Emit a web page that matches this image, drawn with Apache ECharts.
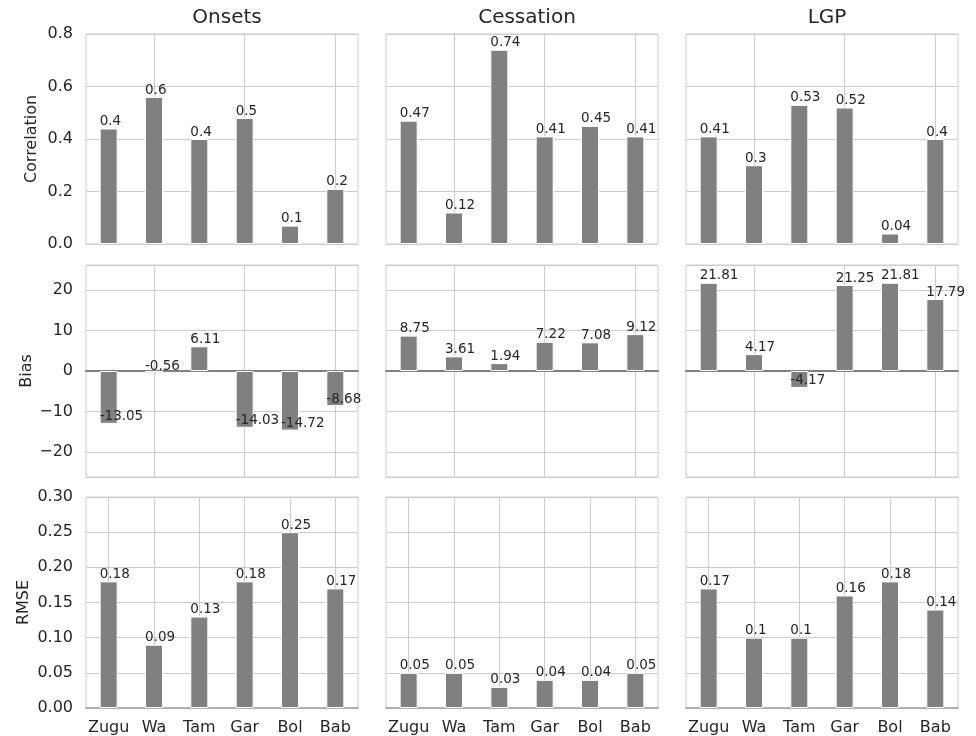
<!DOCTYPE html>
<html>
<head>
<meta charset="utf-8">
<script src="https://cdn.jsdelivr.net/npm/echarts@6/dist/echarts.min.js"></script>
<style>
html,body{margin:0;padding:0;background:#fff;}
#chart{width:976px;height:736px;}
</style>
</head>
<body>
<div id="chart"></div>
<script>
const categories = ['Zugu', 'Wa', 'Tam', 'Gar', 'Bol', 'Bab'];
const columnTitles = ['Onsets', 'Cessation', 'LGP'];
const rowNames = ['Correlation', 'Bias', 'RMSE'];

const corrOnsets = [0.44, 0.56, 0.40, 0.48, 0.07, 0.21];
const corrCessation = [0.47, 0.12, 0.74, 0.41, 0.45, 0.41];
const corrLGP = [0.41, 0.30, 0.53, 0.52, 0.04, 0.40];

const biasOnsets = [-13.05, -0.56, 6.11, -14.03, -14.72, -8.68];
const biasCessation = [8.75, 3.61, 1.94, 7.22, 7.08, 9.12];
const biasLGP = [21.81, 4.17, -4.17, 21.25, 21.81, 17.79];

const rmseOnsets = [0.18, 0.09, 0.13, 0.18, 0.25, 0.17];
const rmseCessation = [0.05, 0.05, 0.03, 0.04, 0.04, 0.05];
const rmseLGP = [0.17, 0.10, 0.10, 0.16, 0.18, 0.14];

// panel data [row][col]
const panels = [
  [corrOnsets, corrCessation, corrLGP],
  [biasOnsets, biasCessation, biasLGP],
  [rmseOnsets, rmseCessation, rmseLGP]
];
const labelDecimals = [[1, 2, 2], [2, 2, 2], [2, 2, 2]];

// layout
const colLeft = [86, 386, 686];
const colWidth = 272;
const rowTop = [34, 265, 497];
const rowHeight = [210, 212, 211];

const yCfg = [
  {min: 0, max: 0.8, interval: 0.2, fmt: v => v.toFixed(1), gap: 46},
  {min: -26.2, max: 26.2, splitNumber: 5, fmt: v => (v < 0 ? '\u2212' + Math.abs(v) : String(v)), gap: 49},
  {min: 0, max: 0.3, interval: 0.05, fmt: v => v.toFixed(2), gap: 54}
];

const textColor = '#262626';
const gridColor = '#cccccc';
const FONT = 'DejaVu Sans';

const grids = [], xAxes = [], yAxes = [], series = [], titles = [];
let idx = 0;
for (let r = 0; r < 3; r++) {
  for (let c = 0; c < 3; c++) {
    grids.push({
      left: colLeft[c], top: rowTop[r], width: colWidth, height: rowHeight[r],
      containLabel: false, outerBoundsMode: 'none',
      show: true, borderColor: gridColor, borderWidth: 1, backgroundColor: 'transparent'
    });
    let axisLine;
    if (r === 1) axisLine = {show: true, onZero: true, lineStyle: {color: '#808080', width: 2}};
    else if (r === 2) axisLine = {show: true, onZero: false, lineStyle: {color: '#b0b0b0', width: 2}};
    else axisLine = {show: false};
    xAxes.push({
      type: 'category', gridIndex: idx, data: categories, boundaryGap: true,
      axisLine: axisLine,
      axisTick: {show: false},
      axisLabel: {show: r === 2, interval: 0, color: textColor, fontFamily: FONT, fontSize: 16, margin: 12},
      splitLine: {
        show: true, alignWithLabel: true,
        interval: r === 2 ? 0 : function (i) { return i % 2 === 1; },
        lineStyle: {color: gridColor, width: 1}
      }
    });
    const yc = yCfg[r];
    const yAxis = {
      type: 'value', gridIndex: idx, min: yc.min, max: yc.max,
      name: c === 0 ? rowNames[r] : '',
      nameLocation: 'middle', nameGap: yc.gap, nameRotate: 90,
      nameTextStyle: {color: textColor, fontFamily: FONT, fontSize: 16},
      axisLine: {show: false}, axisTick: {show: false},
      axisLabel: {
        show: c === 0, color: textColor, fontFamily: FONT, fontSize: 16, margin: 13,
        showMinLabel: r !== 1, showMaxLabel: r !== 1,
        formatter: yc.fmt
      },
      splitLine: {show: true, lineStyle: {color: gridColor, width: 1}}
    };
    if (yc.interval !== undefined) yAxis.interval = yc.interval;
    if (yc.splitNumber !== undefined) yAxis.splitNumber = yc.splitNumber;
    yAxes.push(yAxis);
    const dec = labelDecimals[r][c];
    series.push({
      type: 'bar', xAxisIndex: idx, yAxisIndex: idx,
      barWidth: 18,
      itemStyle: {color: '#808080', borderColor: '#ffffff', borderWidth: 1},
      label: {
        show: true, color: textColor, fontFamily: FONT, fontSize: 13.5,
        align: 'left', verticalAlign: 'bottom',
        formatter: p => String(Number(p.value.toFixed(dec)))
      },
      data: panels[r][c].map(v => ({
        value: v,
        label: {position: v < 0 ? ['0%', '100%'] : ['0%', '0%']}
      }))
    });
    idx++;
  }
}
for (let c = 0; c < 3; c++) {
  titles.push({
    text: columnTitles[c], left: colLeft[c] + colWidth / 2, top: 3, textAlign: 'center',
    textStyle: {color: textColor, fontFamily: FONT, fontSize: 20, fontWeight: 'normal'}
  });
}

const chart = echarts.init(document.getElementById('chart'), null, {renderer: 'canvas'});
chart.setOption({
  animation: false,
  backgroundColor: '#ffffff',
  title: titles,
  grid: grids,
  xAxis: xAxes,
  yAxis: yAxes,
  series: series
});
</script>
</body>
</html>
